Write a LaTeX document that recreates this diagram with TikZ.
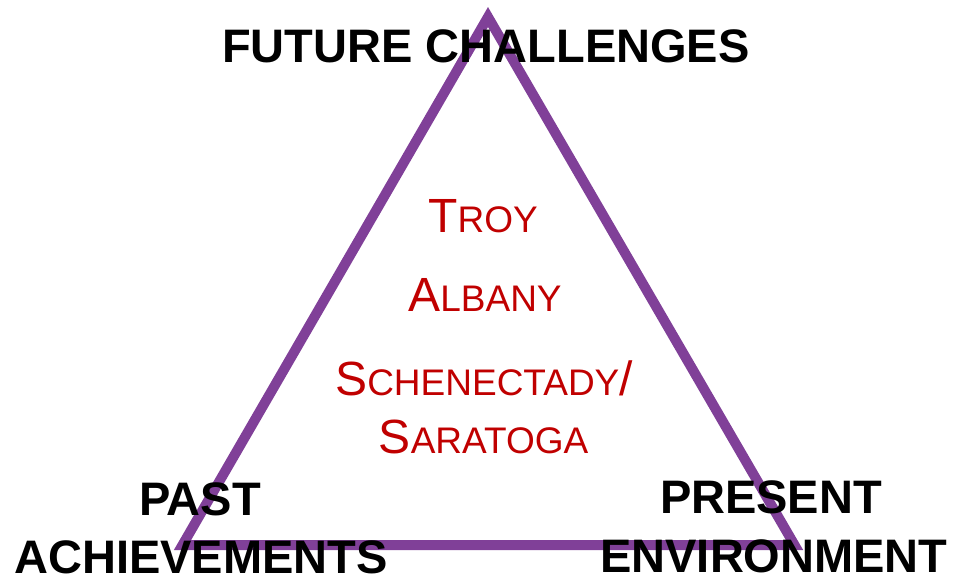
\documentclass[tikz,border=0pt]{standalone}
\usepackage{fontspec}
\setmainfont{Liberation Sans}
\definecolor{tripurple}{RGB}{128,64,152}
\definecolor{cityred}{RGB}{192,0,0}
\newcommand{\scBig}[1]{{\fontsize{48}{50}\selectfont #1}}
\newcommand{\scSmall}[1]{{\fontsize{37}{40}\selectfont #1}}
\begin{document}
\begin{tikzpicture}[x=1pt,y=-1pt,
  corner/.style={font=\fontsize{47}{50}\selectfont\bfseries, text=black, inner sep=0pt, anchor=base},
  city/.style={text=cityred, inner sep=0pt, anchor=base},
  tri/.style={draw=tripurple, line width=10pt, line join=miter, miter limit=10}]
\useasboundingbox (0,0) rectangle (953,575);
\coordinate (apex) at (488,17);
\coordinate (bl) at (182.5,545);
\coordinate (br) at (794.5,545);
\draw[tri] (apex) -- (bl) -- (br) -- cycle;

\node[corner] (future) at (486,63) {FUTURE CHALLENGES};
\node[corner] (past) at (200,515) {PAST};
\node[corner] (achievements) at (201,573) {ACHIEVEMENTS};
\node[corner] (present) at (771,513) {PRESENT};
\node[corner] (environment) at (774,572) {ENVIRONMENT};

\node[city] (troy) at (483,232) {\scBig{T}\scSmall{ROY}};
\node[city] (albany) at (485,311) {\scBig{A}\scSmall{LBANY}};
\node[city] (schenectady) at (484,395) {\scBig{S}\scSmall{CHENECTADY}\scBig{/}};
\node[city] (saratoga) at (483.5,453) {\scBig{S}\scSmall{ARATOGA}};
\end{tikzpicture}
\end{document}
